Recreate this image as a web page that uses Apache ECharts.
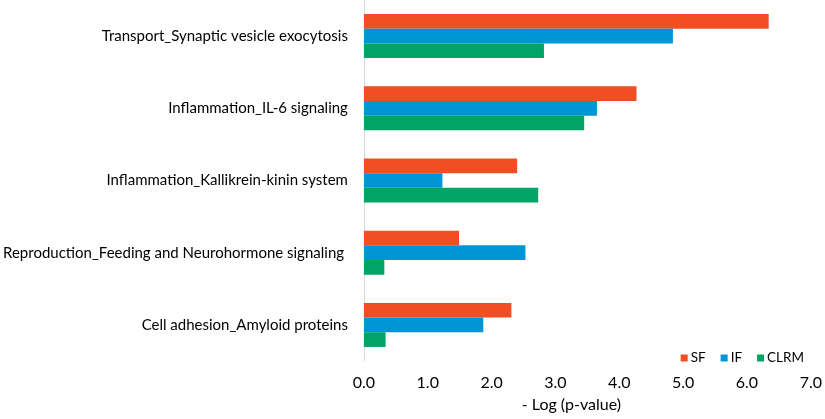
<!DOCTYPE html>
<html>
<head>
<meta charset="utf-8">
<script src="https://cdn.jsdelivr.net/npm/echarts@6/dist/echarts.min.js"></script>
<style>html,body{margin:0;padding:0;background:#fff}#c{width:825px;height:419px}</style>
</head>
<body>
<div id="c"></div>
<script>
const categories = [
  'Transport_Synaptic vesicle exocytosis',
  'Inflammation_IL-6 signaling',
  'Inflammation_Kallikrein-kinin system',
  'Reproduction_Feeding and Neurohormone signaling ',
  'Cell adhesion_Amyloid proteins'
];
const sfValues = [6.34, 4.27, 2.40, 1.49, 2.31];
const ifValues = [4.84, 3.65, 1.23, 2.53, 1.87];
const clrmValues = [2.82, 3.45, 2.73, 0.32, 0.34];
const seriesNames = ['SF', 'IF', 'CLRM'];
const axisTitle = '- Log (p-value)';

const FONT = 'Lato';
const chart = echarts.init(document.getElementById('c'), null, {renderer: 'canvas'});
const colors = ['#F04E23', '#0096D6', '#00A464'];
const vals = [sfValues, ifValues, clrmValues];
chart.setOption({
  animation: false,
  color: colors,
  textStyle: {fontFamily: FONT},
  grid: {left: 360, right: 11, top: -1, height: 362, containLabel: false},
  legend: {
    data: seriesNames,
    right: 16, top: 346,
    itemWidth: 7, itemHeight: 7, itemGap: 15,
    icon: 'rect',
    textStyle: {fontFamily: FONT, fontSize: 13.5, color: '#000', padding: [0, 0, 0, -2]}
  },
  xAxis: {
    type: 'value', min: 0, max: 7, interval: 1,
    axisLine: {show: false}, axisTick: {show: false}, splitLine: {show: false},
    axisLabel: {margin: 14, fontSize: 16, color: '#000', fontFamily: FONT,
      formatter: v => v.toFixed(1)},
    name: axisTitle, nameLocation: 'middle', nameGap: 36,
    nameTextStyle: {fontSize: 16, color: '#000', fontFamily: FONT, padding: [0, 32, 0, 0]}
  },
  yAxis: {
    type: 'category', data: categories, inverse: true,
    axisLine: {show: true, lineStyle: {color: '#d9d9d9', width: 1}},
    axisTick: {show: false},
    axisLabel: {margin: 16, fontSize: 15, color: '#000', fontFamily: FONT}
  },
  series: seriesNames.map((n, i) => ({
    name: n, type: 'bar', data: vals[i],
    barGap: 0, barCategoryGap: '39%',
    itemStyle: {color: colors[i]}
  }))
});
</script>
</body>
</html>
